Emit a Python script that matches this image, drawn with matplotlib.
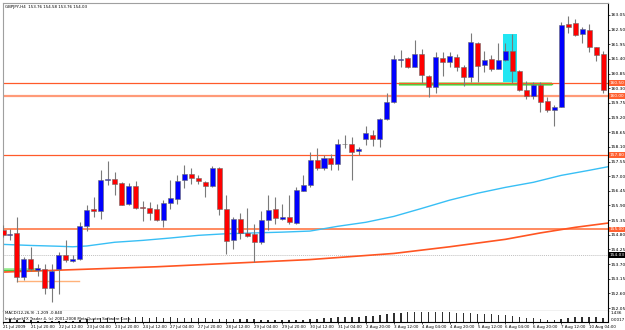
import numpy as np
import matplotlib
matplotlib.use("Agg")
import matplotlib.pyplot as plt

plt.rcParams['font.family'] = ['Liberation Sans Narrow', 'DejaVu Sans']

# GBPJPY H4 candles
opens = [154.99, 154.78, 154.87, 153.23, 153.88, 153.48, 153.52, 152.80, 153.50, 154.06,
         153.81, 153.88, 155.13, 155.75, 155.68, 156.85, 156.91, 156.75, 155.94, 156.62,
         155.84, 155.82, 155.78, 155.37, 156.00, 156.16, 156.85, 157.09, 156.95, 156.80,
         156.62, 157.32, 155.78, 154.59, 155.40, 154.88, 154.82, 154.53, 155.37, 155.75,
         155.40, 155.47, 155.26, 156.45, 156.66, 157.62, 157.29, 157.69, 157.45, 158.19,
         158.19, 157.94, 158.38, 158.54, 158.38, 159.13, 159.79, 161.37, 161.42, 161.11,
         161.58, 160.76, 160.33, 161.44, 161.29, 161.48, 161.08, 160.71, 162.01, 161.17,
         161.38, 161.02, 161.36, 161.70, 160.96, 160.23, 160.02, 160.42, 159.83, 159.48,
         159.60, 162.71, 162.74, 162.34, 162.49, 161.84, 161.57, 160.30]
highs = [155.15, 155.00, 155.47, 153.96, 154.36, 153.69, 153.69, 153.69, 154.15, 154.59,
         154.03, 155.28, 155.93, 156.21, 157.22, 157.57, 157.16, 156.80, 156.75, 156.82,
         156.06, 156.03, 155.97, 156.10, 156.85, 157.03, 157.41, 157.29, 157.06, 156.82,
         157.39, 157.35, 156.28, 155.47, 155.62, 155.81, 155.21, 155.69, 156.28, 156.22,
         155.97, 156.28, 156.60, 157.03, 157.90, 158.04, 157.79, 157.85, 158.38, 158.54,
         158.47, 158.10, 158.88, 158.73, 159.20, 160.11, 161.55, 161.73, 161.49, 162.11,
         161.76, 160.79, 161.65, 161.67, 161.67, 161.58, 161.17, 162.38, 162.05, 161.71,
         161.55, 161.99, 161.99, 162.34, 161.00, 160.58, 160.52, 160.52, 159.96, 159.67,
         162.80, 163.01, 162.89, 162.61, 162.71, 161.86, 161.71, 160.35]
lows = [154.70, 154.59, 153.02, 153.11, 153.46, 153.27, 152.56, 152.28, 152.58, 153.78,
        153.78, 153.84, 154.94, 155.46, 155.40, 156.66, 156.28, 155.90, 155.90, 155.76,
        155.31, 155.34, 155.30, 155.10, 155.78, 155.95, 156.57, 156.72, 156.72, 156.20,
        156.60, 155.53, 154.09, 154.28, 154.65, 154.72, 153.78, 154.44, 154.97, 155.21,
        155.37, 155.21, 155.22, 156.43, 156.60, 157.25, 157.25, 157.25, 157.25, 158.04,
        156.87, 157.79, 158.16, 158.12, 158.10, 159.10, 159.75, 161.08, 161.07, 161.08,
        160.48, 159.96, 160.11, 160.76, 161.11, 160.96, 160.38, 160.54, 160.54, 160.92,
        160.96, 161.01, 161.33, 160.51, 160.20, 159.88, 159.88, 159.41, 159.41, 158.89,
        159.58, 162.38, 162.26, 162.01, 161.67, 161.33, 160.13, 159.37]
closes = [154.78, 154.84, 153.21, 153.90, 153.50, 153.55, 152.80, 153.46, 154.06, 153.84,
          153.90, 155.12, 155.72, 155.68, 156.87, 156.91, 156.70, 155.93, 156.62, 155.82,
          155.79, 155.63, 155.34, 156.01, 156.18, 156.82, 157.10, 156.93, 156.82, 156.63,
          157.32, 155.78, 154.56, 155.40, 154.87, 154.77, 154.53, 155.34, 155.72, 155.44,
          155.47, 155.28, 156.47, 156.68, 157.62, 157.29, 157.70, 157.45, 158.20, 158.21,
          157.91, 158.01, 158.62, 158.38, 159.14, 159.79, 161.38, 161.40, 161.11, 161.58,
          160.79, 160.36, 161.46, 161.29, 161.51, 161.08, 160.71, 162.02, 161.14, 161.36,
          161.01, 161.36, 161.70, 160.96, 160.23, 160.02, 160.42, 159.79, 159.48, 159.60,
          162.67, 162.59, 162.30, 162.51, 161.86, 161.55, 160.23, 159.97]

# moving averages, sampled along the chart (bar index, price)
ma_fast_idx = [0, 4, 8, 10, 12, 16, 20, 24, 28, 32, 36, 40, 44, 48, 52, 56, 60, 64, 68, 72, 76, 80, 84, 87]
ma_fast = [154.44, 154.40, 154.37, 154.35, 154.38, 154.52, 154.59, 154.68, 154.78, 154.84, 154.87, 154.90,
           154.94, 155.12, 155.27, 155.49, 155.79, 156.10, 156.36, 156.58, 156.77, 157.03, 157.22, 157.37]
ma_slow_idx = [0, 22, 44, 56, 64, 72, 77, 82, 87]
ma_slow = [153.40, 153.60, 153.87, 154.10, 154.35, 154.63, 154.87, 155.08, 155.25]

# MACD main bars
macd = [0.40, 0.40, 0.30, 0.25, 0.20, 0.18, 0.12, 0.10, 0.10, 0.12,
        0.15, 0.25, 0.35, 0.45, 0.55, 0.62, 0.66, 0.66, 0.65, 0.64,
        0.64, 0.59, 0.64, 0.54, 0.64, 0.59, 0.59, 0.49, 0.49, 0.49,
        0.44, 0.39, 0.39, 0.34, 0.34, 0.34, 0.34, 0.25, 0.25, 0.25,
        0.25, 0.20, 0.25, 0.30, 0.35, 0.39, 0.54, 0.59, 0.64, 0.74,
        0.74, 0.74, 0.84, 0.84, 0.94, 1.08, 1.23, 1.33, 1.43, 1.43,
        1.43, 1.43, 1.43, 1.43, 1.38, 1.33, 1.28, 1.23, 1.13, 1.08,
        1.08, 1.04, 0.94, 0.89, 0.69, 0.59, 0.49, 0.44, 0.30, 0.25,
        0.39, 0.49, 0.64, 0.69, 0.64, 0.64, 0.54]

# drawn levels
levels = [160.50, 160.00, 157.80, 155.00]
level_colors = ['#FF5A2A', '#FF9A78', '#FF5A2A', '#FF8A60']
level_widths = [0.9, 1.6, 0.9, 1.4]
bid = 154.03

date_labels = ['21 Jul 2009', '21 Jul 20:00', '22 Jul 12:00', '23 Jul 04:00', '23 Jul 20:00',
               '24 Jul 12:00', '27 Jul 04:00', '27 Jul 20:00', '28 Jul 12:00', '29 Jul 04:00',
               '29 Jul 20:00', '30 Jul 12:00', '31 Jul 04:00', '2 Aug 20:00', '3 Aug 12:00',
               '4 Aug 04:00', '4 Aug 20:00', '5 Aug 12:00', '6 Aug 04:00', '6 Aug 20:00',
               '7 Aug 12:00', '10 Aug 04:00']

W, H = 625, 330
fig = plt.figure(figsize=(W / 100, H / 100), dpi=100)
ax = fig.add_axes([3 / W, 1 - 311 / H, 605 / W, 308 / H])
axm = fig.add_axes([3 / W, 1 - 322 / H, 605 / W, 11 / H], sharex=ax)

x = np.arange(len(opens))
o = np.array(opens); c = np.array(closes)
up = c >= o

# zones behind candles
ax.fill_between([71.7, 73.7], 160.53, 162.34, color='#22E6F2', lw=0, zorder=1)
ax.fill_between([0.2, 4.96], 153.40, 153.56, color='#A8F0A0', lw=0, zorder=1)
ax.plot([0.2, 4.96], [153.48, 153.48], color='#44D044', lw=1, zorder=1.5)
ax.fill_between([56.8, 78.7], 160.40, 160.55, color='#A8F0A0', lw=0, zorder=1)
ax.plot([56.8, 78.7], [160.47, 160.47], color='#44D044', lw=1, zorder=1.5)
ax.plot([1.96, 10.96], [153.05, 153.05], color='#FFB27A', lw=1, zorder=1.5)

for lv, col, lw in zip(levels, level_colors, level_widths):
    ax.axhline(lv, color=col, lw=lw, zorder=2)
ax.axhline(bid, color='#C0C0C0', lw=0.7, ls=(0, (1, 1)), zorder=2)

ax.plot(ma_fast_idx, ma_fast, color='#38BFF5', lw=1.0, zorder=2)
ax.plot(ma_slow_idx, ma_slow, color='#FF5522', lw=1.2, zorder=2)

ax.vlines(x, lows, highs, color='#7A7A7A', lw=0.8, zorder=3)
body = np.maximum(np.abs(c - o), 0.03)
ax.bar(x, body, bottom=np.minimum(o, c), width=0.72,
       color=np.where(up, '#0000FF', '#FF0000'), edgecolor='#6A6A6A', lw=0.4, zorder=4)

ax.set_xlim(0.24, 86.7)
ax.set_ylim(151.94, 163.50)
ax.yaxis.tick_right()
ticks = np.round(np.arange(152.05, 163.1, 0.55), 2)
ax.set_yticks(ticks)
ax.set_yticklabels([f'{v:.2f}' for v in ticks])
ax.tick_params(axis='y', labelsize=3.2, length=1.5, width=0.5, pad=0.6)
ax.tick_params(axis='x', bottom=False, labelbottom=False)
for s in ['left', 'top']:
    ax.spines[s].set_color('#A0A0A0')
ax.spines['bottom'].set_linewidth(0.8)
ax.spines['right'].set_linewidth(0.8)

ytr = ax.get_yaxis_transform()
for lv in levels:
    ax.text(1.003, lv, f'{lv:.2f}', transform=ytr, fontsize=3.1, color='white', va='center', ha='left',
            bbox=dict(boxstyle='square,pad=0.2', fc='#FF6030', ec='none'), clip_on=False)
ax.text(1.003, bid, f'{bid:.2f}', transform=ytr, fontsize=3.1, color='white', va='center', ha='left',
        bbox=dict(boxstyle='square,pad=0.2', fc='black', ec='none'), clip_on=False)

ax.text(0.003, 0.994, 'GBPJPY,H4  153.76 154.58 153.76 154.03', transform=ax.transAxes,
        fontsize=2.9, va='top', ha='left')

# MACD window
axm.bar(np.arange(len(macd)), macd, width=0.22, color='#303030', zorder=2)
axm.set_ylim(-0.04, 1.58)
axm.yaxis.tick_right()
axm.set_yticks([])
axm.text(1.004, 0.78, '1.436', transform=axm.transAxes, fontsize=3.0, va='center', ha='left')
axm.text(1.004, 0.22, '0.0017', transform=axm.transAxes, fontsize=3.0, va='center', ha='left')
axm.set_xticks(np.arange(0, 85, 4))
axm.set_xticklabels(date_labels, fontsize=2.9, ha='left')
axm.tick_params(axis='x', length=1.5, width=0.5, pad=0.8)
axm.spines['left'].set_color('#A0A0A0')
axm.spines['top'].set_visible(False)
axm.text(0.003, 0.98, 'MACD(12,26,9) -1.209 -0.840', transform=axm.transAxes, fontsize=2.8, va='top')
axm.text(0.003, 0.45, 'InterbankFX Trader 4, (c) 2001-2008 MetaQuotes Software Corp.',
         transform=axm.transAxes, fontsize=2.8, va='top')

fig.savefig('out.png', dpi=100)
